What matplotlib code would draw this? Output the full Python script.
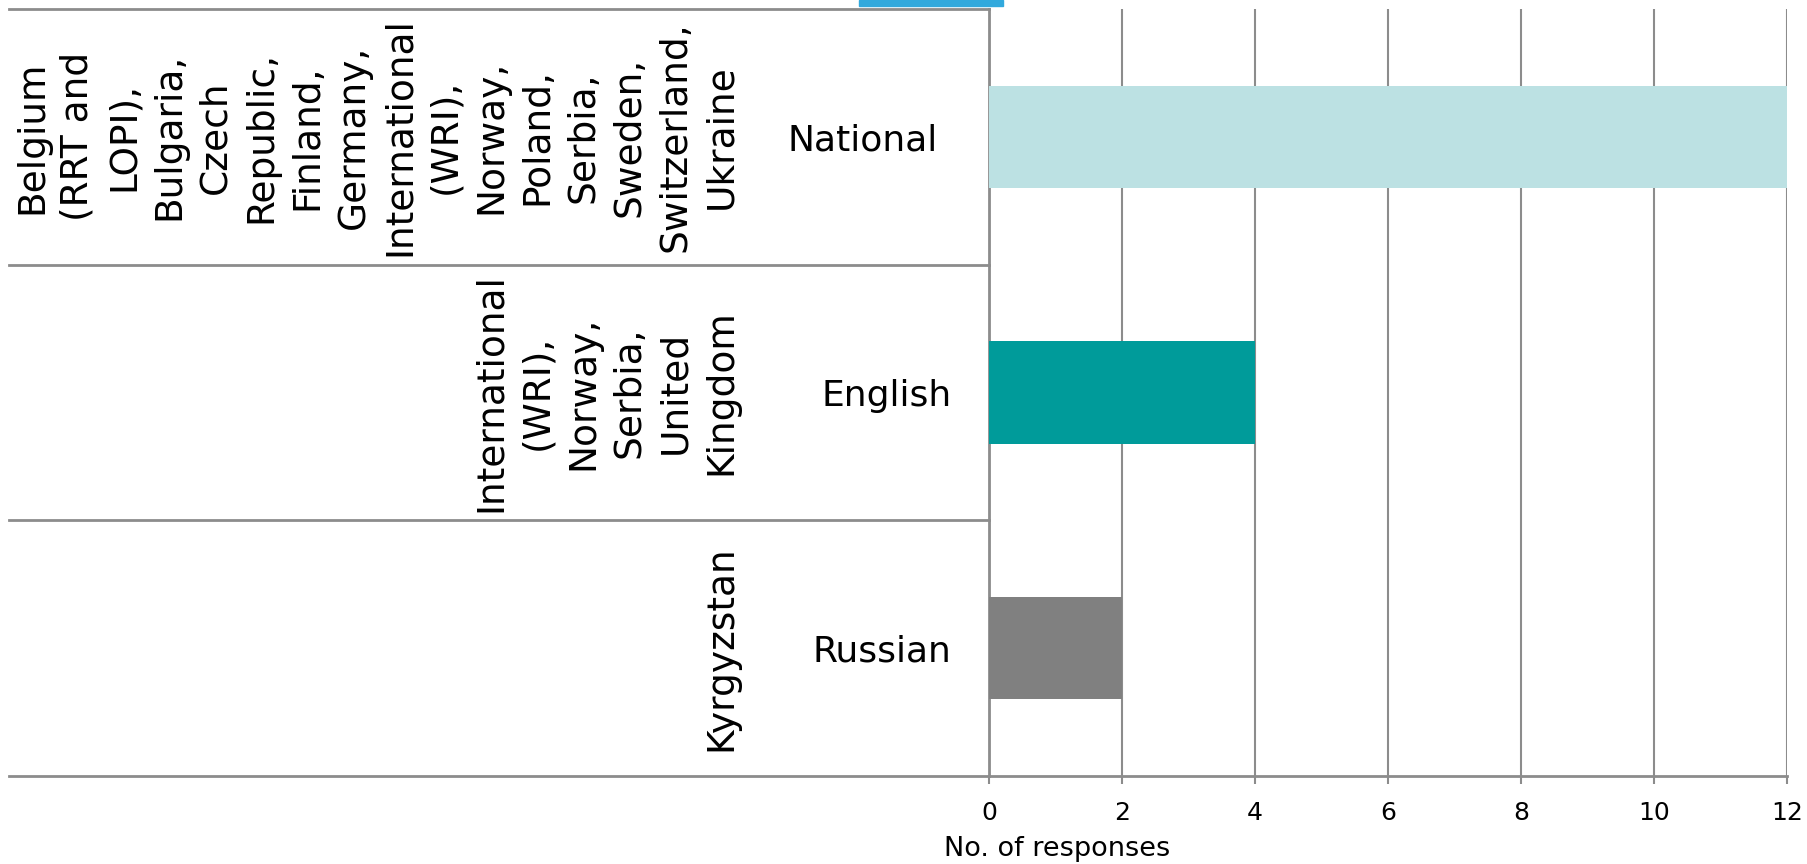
import matplotlib
matplotlib.use("Agg")
import matplotlib.pyplot as plt
import matplotlib.transforms as mtransforms
from matplotlib.patches import Rectangle

plt.rcParams['font.family'] = ['DejaVu Sans']

# Response language categories (top to bottom)
languages = ["National", "English", "Russian"]
responses = [12, 4, 2]
bar_colors = ["#BCE1E3", "#009B9A", "#808080"]
countries = [
    "Belgium\n(RRT and\nLOPI),\nBulgaria,\nCzech\nRepublic,\nFinland,\nGermany,\nInternational\n(WRI),\nNorway,\nPoland,\nSerbia,\nSweden,\nSwitzerland,\nUkraine",
    "International\n(WRI),\nNorway,\nSerbia,\nUnited\nKingdom",
    "Kyrgyzstan",
]
x_ticks = [0, 2, 4, 6, 8, 10, 12]

W, H, DPI = 1808, 864, 100
fig = plt.figure(figsize=(W / DPI, H / DPI), dpi=DPI)
left_px, right_px, top_px, bottom_px = 989, 1787, 9, 776
ax = fig.add_axes([left_px / W, 1 - bottom_px / H,
                   (right_px - left_px) / W, (bottom_px - top_px) / H])

grid_col = "#8C8C8C"
ypos = list(range(len(languages)))
ax.barh(ypos, responses, height=0.4, color=bar_colors, zorder=3)

ax.set_xlim(0, 12)
ax.set_ylim(len(languages) - 0.5, -0.5)
ax.set_xticks(x_ticks)
ax.set_xticklabels([str(t) for t in x_ticks], fontsize=18)
ax.tick_params(axis='x', direction='out', length=6, width=1.5,
               color=grid_col, pad=12)
ax.xaxis.grid(True, color=grid_col, linewidth=1.5, zorder=0)
ax.set_axisbelow(True)

ax.set_yticks(ypos)
ax.set_yticklabels(languages, fontsize=26)
ax.tick_params(axis='y', length=0, pad=27)
# the first label sits a little further from the axis
first = ax.get_yticklabels()[0]
first.set_transform(first.get_transform()
                    + mtransforms.ScaledTranslation(-0.14, 0, fig.dpi_scale_trans))

for s in ("top", "right"):
    ax.spines[s].set_visible(False)
for s in ("left", "bottom"):
    ax.spines[s].set_color(grid_col)
    ax.spines[s].set_linewidth(2)

ax.set_xlabel("No. of responses", fontsize=19.5)
ax.xaxis.set_label_coords(0.085, -0.095)
ax.xaxis.label.set_va('center')

# Category boundary rules extending across the country column
blend = mtransforms.blended_transform_factory(ax.transAxes, ax.transData)
x_rule_start = (9 - left_px) / (right_px - left_px)
for b in [i - 0.5 for i in range(len(languages) + 1)]:
    ax.plot([x_rule_start, 0], [b, b], transform=blend, color=grid_col,
            linewidth=2, clip_on=False, zorder=4)

# Country lists, rotated, right-aligned in the left column
x_countries = (739 - left_px) / (right_px - left_px)
for i, txt in enumerate(countries):
    ax.text(x_countries, i, txt, transform=blend, rotation=90,
            ha='right', va='center', multialignment='center',
            fontsize=27, linespacing=1.355, clip_on=False)

# Small blue header tab above the chart
fig.patches.append(Rectangle((859 / W, 1 - 6 / H), (1003 - 859) / W, 6 / H,
                             transform=fig.transFigure, color="#31A9DD"))

fig.savefig("out.png", dpi=DPI)
